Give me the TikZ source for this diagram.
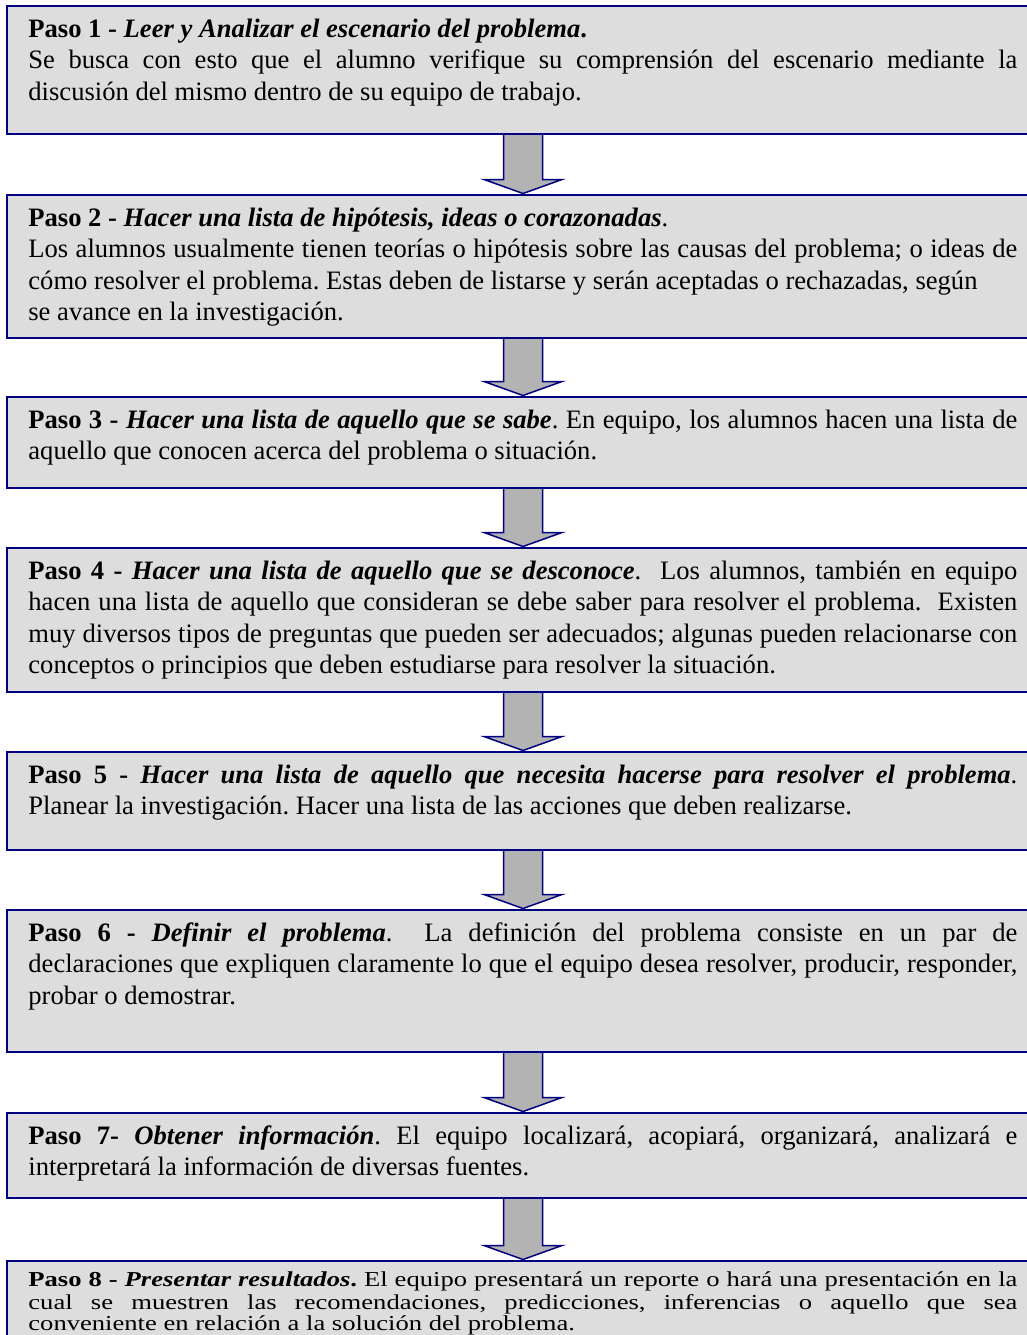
\documentclass[tikz,border=0pt]{standalone}
\usepackage{fontspec}
\setmainfont{Liberation Serif}
\definecolor{marino}{RGB}{0,0,128}
\definecolor{grisclaro}{RGB}{221,221,221}
\definecolor{grisflecha}{RGB}{179,179,179}
\hyphenpenalty=10000
\tolerance=9999
\frenchspacing
\begin{document}
\begin{tikzpicture}[x=0.5pt,y=-0.5pt,
    caja/.style={draw=marino,line width=1pt,fill=grisclaro,anchor=north west,
        minimum width=516pt,inner sep=0pt,outer sep=0pt},
    texto/.style={anchor=north west,inner sep=0pt,text width=494.5pt,align=justify,
        font=\fontsize{13.3}{15.75}\selectfont\frenchspacing},
    flecha/.style={draw=marino,line width=0.75pt,fill=grisflecha,line join=miter}]
    \useasboundingbox (0,0) rectangle (1027,1335);
    \clip (0,0) rectangle (1027,1335);

    % Paso 1
    \node[caja,minimum height=64pt] (p1) at (7,6) {};
    \node[texto] (t1) at ([xshift=10.5pt,yshift=-4.5pt]p1.north west)
        {\strut\textbf{Paso 1 - \textit{Leer y Analizar el escenario del problema}.}\newline
        Se busca con esto que el alumno verifique su comprensión del escenario mediante la\linebreak
        discusión del mismo dentro de su equipo de trabajo.};

    % Paso 2
    \node[caja,minimum height=71.5pt] (p2) at (7,195) {};
    \node[texto] (t2) at ([xshift=10.5pt,yshift=-4.5pt]p2.north west)
        {\strut\textbf{Paso 2 - \textit{Hacer una lista de hipótesis, ideas o corazonadas}}.\newline
        Los alumnos usualmente tienen teorías o hipótesis sobre las causas del problema; o ideas de\linebreak
        cómo resolver el problema. Estas deben de listarse y serán aceptadas o rechazadas, según\newline
        se avance en la investigación.};

    % Paso 3
    \node[caja,minimum height=45.5pt] (p3) at (7,397) {};
    \node[texto] (t3) at ([xshift=10.5pt,yshift=-4.5pt]p3.north west)
        {\strut\textbf{Paso 3 - \textit{Hacer una lista de aquello que se sabe}}. En equipo, los alumnos hacen una lista de\linebreak
        aquello que conocen acerca del problema o situación.};

    % Paso 4
    \node[caja,minimum height=72pt] (p4) at (7,548) {};
    \node[texto] (t4) at ([xshift=10.5pt,yshift=-4.5pt]p4.north west)
        {\strut\textbf{Paso 4 - \textit{Hacer una lista de aquello que se desconoce}}.~ Los alumnos, también en equipo\linebreak
        hacen una lista de aquello que consideran se debe saber para resolver el problema.~ Existen\linebreak
        muy diversos tipos de preguntas que pueden ser adecuados; algunas pueden relacionarse con\linebreak
        conceptos o principios que deben estudiarse para resolver la situación.};

    % Paso 5
    \node[caja,minimum height=49pt] (p5) at (7,752) {};
    \node[texto] (t5) at ([xshift=10.5pt,yshift=-4.5pt]p5.north west)
        {\strut\textbf{Paso 5 - \textit{Hacer una lista de aquello que necesita hacerse para resolver el problema}}.\linebreak
        Planear la investigación. Hacer una lista de las acciones que deben realizarse.};

    % Paso 6
    \node[caja,minimum height=71pt] (p6) at (7,910) {};
    \node[texto] (t6) at ([xshift=10.5pt,yshift=-4.5pt]p6.north west)
        {\strut\textbf{Paso 6 - \textit{Definir el problema}}.~ La definición del problema consiste en un par de\linebreak
        declaraciones que expliquen claramente lo que el equipo desea resolver, producir, responder,\linebreak
        probar o demostrar.};

    % Paso 7
    \node[caja,minimum height=42.5pt] (p7) at (7,1113) {};
    \node[texto] (t7) at ([xshift=10.5pt,yshift=-4.5pt]p7.north west)
        {\strut\textbf{Paso 7- \textit{Obtener información}}. El equipo localizará, acopiará, organizará, analizará e\linebreak
        interpretará la información de diversas fuentes.};

    % Paso 8 (el texto queda algo apretado abajo)
    \node[caja,minimum height=60pt] (p8) at (7,1261) {};
    \coordinate (c8) at ([xshift=10.5pt,yshift=-5.35pt]p8.north west);
    \node[texto,font=\fontsize{13.3}{12.8}\selectfont\frenchspacing,yscale=0.8,transform shape] (t8) at (c8)
        {\strut\textbf{Paso 8 - \textit{Presentar resultados}.} El equipo presentará un reporte o hará una presentación en la\linebreak
        cual se muestren las recomendaciones, predicciones, inferencias o aquello que sea\linebreak
        conveniente en relación a la solución del problema.};

    % Flechas entre pasos
    \foreach \a/\b in {p1/p2,p2/p3,p3/p4,p4/p5,p5/p6,p6/p7,p7/p8}
        \draw[flecha] ([xshift=-9.75pt,yshift=-0.5pt]\a.south)
            -- ([xshift=-9.75pt,yshift=7.75pt]\b.north)
            -- ([xshift=-19.5pt,yshift=7.75pt]\b.north)
            -- ([yshift=0.75pt]\b.north)
            -- ([xshift=19.5pt,yshift=7.75pt]\b.north)
            -- ([xshift=9.75pt,yshift=7.75pt]\b.north)
            -- ([xshift=9.75pt,yshift=-0.5pt]\a.south);
\end{tikzpicture}
\end{document}
